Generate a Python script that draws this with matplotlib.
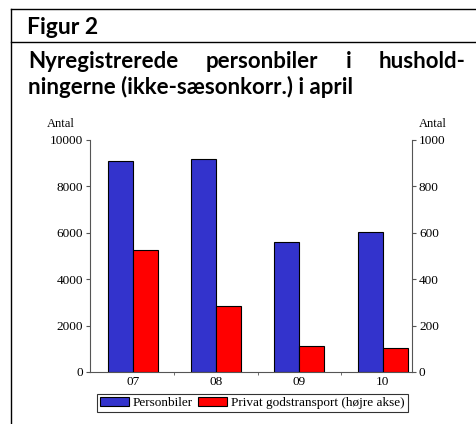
import numpy as np
import matplotlib.pyplot as plt
from matplotlib.patches import Patch
from matplotlib.lines import Line2D

# Data
years = ['07', '08', '09', '10']
personbiler = [9100, 9170, 5590, 6020]      # venstre akse
godstransport = [527, 286, 112, 102]        # højre akse

W, H = 476, 424
fig = plt.figure(figsize=(W / 100, H / 100), dpi=100)


def fx(px):
    return px / W


def fy(py):
    return 1 - py / H


serif = 'Liberation Serif'
title_font = dict(family='Lato', weight='bold', size=16)

# Rammen
for xs, ys in [([11, 11], [9, H]), ([11, W], [9, 9]), ([11, W], [42, 42])]:
    fig.add_artist(Line2D([fx(v) for v in xs], [fy(v) for v in ys],
                          color='black', lw=1.0))

fig.text(fx(27), fy(34.5), 'Figur 2', va='baseline', ha='left',
         family='Lato', weight='bold', size=16.5)

# Første titellinje, lige margen (justeret)
words = ['Nyregistrerede', 'personbiler', 'i', 'hushold-']
left, right = 28, 466
txts = [fig.text(0, fy(68.5), w_, va='baseline', ha='left', **title_font) for w_ in words]
fig.canvas.draw()
r = fig.canvas.get_renderer()
widths = [t.get_window_extent(r).width for t in txts]
gap = (right - left - sum(widths)) / (len(words) - 1)
pos = left
for t, wd in zip(txts, widths):
    t.set_x(fx(pos))
    pos += wd + gap
fig.text(fx(28), fy(94), 'ningerne (ikke-sæsonkorr.) i april',
         va='baseline', ha='left', **title_font)

# Akser
ax = fig.add_axes([fx(90), fy(372), fx(412) - fx(90), fy(140) - fy(372)])
ax2 = ax.twinx()
x = np.arange(len(years))
w = 0.30
ax.bar(x - w / 2, personbiler, w, color='#3333cc', edgecolor='black', lw=0.8)
ax2.bar(x + w / 2, godstransport, w, color='#ff0000', edgecolor='black', lw=0.8)
ax.set_ylim(0, 10000)
ax2.set_ylim(0, 1000)
ax.set_xlim(-0.512, 3.35)

grey = '#555555'
for a in (ax, ax2):
    a.spines['top'].set_visible(False)
    for s in a.spines.values():
        s.set_color(grey)
ax.spines['right'].set_visible(False)
ax2.spines['left'].set_visible(False)
ax2.spines['bottom'].set_visible(False)

ax.set_yticks(np.arange(0, 10001, 2000))
ax2.set_yticks(np.arange(0, 1001, 200))
ax.set_xticks(x)
ax.set_xticklabels(years)
ax.set_xticks([0.5, 1.5, 2.5], minor=True)
ax.tick_params(axis='x', which='major', length=0, pad=3)
ax.tick_params(axis='x', which='minor', length=2, color=grey)
ax.tick_params(axis='y', length=3, color=grey, pad=2)
ax2.tick_params(axis='y', length=3, color=grey, pad=2)
for lab in ax.get_xticklabels() + ax.get_yticklabels() + ax2.get_yticklabels():
    lab.set_fontfamily(serif)
    lab.set_fontsize(9.5)

fig.text(fx(61), fy(124), 'Antal', ha='center', va='center', family=serif, fontsize=9)
fig.text(fx(433), fy(124), 'Antal', ha='center', va='center', family=serif, fontsize=9)

handles = [Patch(facecolor='#3333cc', edgecolor='black', lw=0.8, label='Personbiler'),
           Patch(facecolor='#ff0000', edgecolor='black', lw=0.8,
                 label='Privat godstransport (højre akse)')]
leg = fig.legend(handles=handles, loc='center', bbox_to_anchor=(fx(252.5), fy(403)),
                 ncol=2, frameon=True, fancybox=False, edgecolor='black',
                 prop={'family': serif, 'size': 9.5}, handlelength=2.2,
                 handleheight=0.6, handletextpad=0.3, columnspacing=0.4,
                 borderpad=0.25, borderaxespad=0)
leg.get_frame().set_linewidth(0.8)

fig.savefig('out.png', dpi=100)
